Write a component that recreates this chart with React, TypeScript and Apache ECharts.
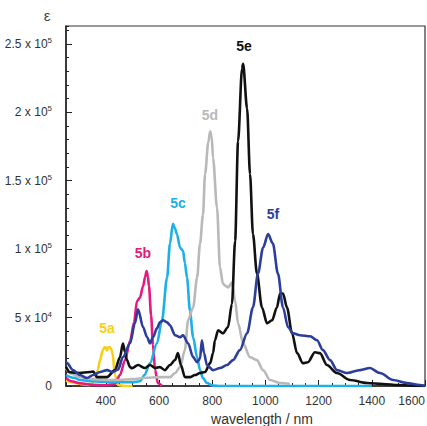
import React, { useEffect, useRef } from "react";
import * as echarts from "echarts";

const xTickLabels = [400, 600, 800, 1000, 1200, 1400, 1600];
const yTickLabels = [0, 50000, 100000, 150000, 200000, 250000];

const s5a: [number, number][] = [
  [250, 4000], [280, 2500], [303, 1500], [340, 700], [359, 4000], [370, 12000], [378, 19000],
  [388, 26000], [395, 28500], [400, 28000], [404, 26000], [408, 28000], [414, 28500], [420, 27000],
  [425, 24000], [434, 8000], [446, 700], [470, 0], [500, 0],
];
const s5b: [number, number][] = [
  [250, 5800], [270, 3500], [303, 2000], [350, 800], [400, 500], [434, 1500], [453, 8000],
  [472, 19000], [491, 33000], [506, 46500], [517, 62000], [528, 64500], [540, 73000], [548, 80000],
  [553, 84000], [558, 80000], [562, 73000], [570, 51500], [577, 30000], [585, 11600], [596, 2000], [611, 0],
];
const s5c: [number, number][] = [
  [250, 8000], [280, 6000], [303, 4400], [350, 3500], [400, 2900], [450, 2700], [500, 2800],
  [528, 3500], [545, 8000], [566, 16700], [592, 31200], [611, 48000], [630, 79200], [641, 104000],
  [652, 118500], [660, 115000], [667, 111000], [679, 101000], [690, 98800], [697, 90000],
  [705, 79200], [716, 55200], [728, 35600], [743, 21100], [754, 11600], [765, 5800], [780, 2200],
  [803, 300], [830, 0], [1000, 0], [1400, 0],
];
const s5d: [number, number][] = [
  [250, 13000], [270, 9000], [303, 6500], [350, 5000], [400, 4400], [450, 4400], [500, 5000],
  [550, 6000], [600, 6500], [641, 6500], [660, 9500], [679, 13800], [697, 26200], [709, 48000],
  [728, 57400], [743, 79200], [754, 104000], [765, 125000], [773, 154800], [785, 178000],
  [792, 186000], [798, 182000], [803, 166400], [818, 130000], [829, 86500], [840, 75000],
  [848, 73400], [860, 72000], [874, 75600], [886, 62500], [897, 45800], [916, 31200], [942, 21100],
  [968, 18900], [991, 11600], [1017, 4400], [1055, 2200], [1092, 1500],
];
const s5e: [number, number][] = [
  [250, 14000], [265, 10000], [300, 9500], [340, 10200], [352, 10500], [367, 6500], [404, 6500],
  [434, 11600], [453, 21000], [464, 31000], [472, 25000], [479, 19000], [491, 13800], [498, 13000],
  [521, 15300], [547, 13100], [566, 15300], [585, 13100], [603, 13800], [622, 11600], [641, 15300],
  [660, 19000], [671, 24000], [682, 15300], [697, 6500], [716, 6500], [735, 8000], [754, 9500],
  [773, 10200], [792, 16700], [803, 24000], [810, 33400], [822, 40700], [840, 38500], [859, 42900],
  [874, 60000], [886, 106000], [897, 178800], [912, 231800], [916, 235400], [931, 202700],
  [942, 154800], [953, 111000], [968, 82100], [987, 57400], [1006, 45800], [1025, 48000],
  [1043, 57400], [1055, 67600], [1066, 67600], [1081, 57400], [1100, 38500], [1119, 24000],
  [1141, 16700], [1160, 17400], [1186, 24700], [1205, 24000], [1231, 15300], [1269, 9450],
  [1318, 4360], [1382, 2180], [1442, 1450], [1500, 700], [1550, 300], [1600, 0],
];
const s5f: [number, number][] = [
  [250, 17400], [254, 16700], [276, 11600], [303, 8000], [329, 5800], [352, 8000], [378, 10200],
  [404, 11600], [427, 10200], [446, 12000], [464, 21100], [491, 31200], [509, 45800], [521, 56000],
  [540, 42900], [555, 35600], [566, 31200], [577, 35600], [592, 42100], [603, 46500], [615, 48000],
  [630, 46500], [641, 44300], [660, 37100], [679, 35600], [690, 37100], [709, 31200], [728, 21100],
  [743, 17400], [754, 20000], [761, 33400], [769, 24000], [780, 15300], [803, 11600], [829, 13100],
  [855, 15300], [878, 18900], [904, 26200], [931, 38500], [953, 57400], [972, 82100], [991, 101000],
  [1010, 111000], [1028, 104000], [1047, 82100], [1066, 57400], [1085, 42900], [1104, 38500],
  [1130, 37100], [1168, 36300], [1194, 33400], [1216, 26200], [1243, 18900], [1269, 11600],
  [1307, 9450], [1356, 11600], [1393, 13100], [1431, 9450], [1480, 4360], [1532, 2180],
  [1581, 730], [1600, 0],
];

const seriesNames = ["5a", "5b", "5c", "5d", "5e", "5f"];
const seriesData = [s5a, s5b, s5c, s5d, s5e, s5f];
const seriesColors = ["#f7cf16", "#e5197e", "#1bb0e8", "#b9b9b9", "#111111", "#2c3e9c"];

const FONT = "'Liberation Sans', Arial, sans-serif";

function yLabel(v: number): string {
  if (v === 0) return "0";
  const exp = Math.floor(Math.log10(v) + 1e-9);
  const mant = v / Math.pow(10, exp);
  return `${mant} x 10{sup|${exp}}`;
}

export default function App() {
  const ref = useRef<HTMLDivElement>(null);
  useEffect(() => {
    document.body.style.margin = "0";
    const chart = echarts.init(ref.current!, null, { renderer: "svg" });
    const xMin = 250, xMax = 1600, yMin = 0, yMax = 263000;
    const labelText = [
      { t: "5a", x: 107, y: 328 },
      { t: "5b", x: 143, y: 253 },
      { t: "5c", x: 178, y: 203 },
      { t: "5d", x: 210, y: 115 },
      { t: "5e", x: 244, y: 46 },
      { t: "5f", x: 273, y: 214 },
    ];
    chart.setOption({
      animation: false,
      backgroundColor: "#ffffff",
      grid: {
        left: 66, right: 2, top: 26, bottom: 40, show: true, borderColor: "#333", borderWidth: 1.2,
        backgroundColor: "transparent", containLabel: false, outerBoundsMode: "none",
      },
      xAxis: [
        {
          type: "value", min: xMin, max: xMax, interval: 50, position: "bottom",
          axisLine: { show: true, lineStyle: { color: "#222", width: 1.5 } },
          axisTick: { show: true, inside: true, length: 3, lineStyle: { color: "#222", width: 1 } },
          axisLabel: {
            customValues: xTickLabels, color: "#333", fontSize: 12, fontFamily: FONT, margin: 9,
            alignMaxLabel: "right",
            formatter: (v: number) => String(v),
          },
          splitLine: { show: false },
        },
        {
          type: "value", min: xMin, max: xMax, position: "bottom",
          axisLine: { show: false },
          axisTick: { show: true, inside: true, length: 6, customValues: xTickLabels, lineStyle: { color: "#222", width: 1 } },
          axisLabel: { show: false },
          splitLine: { show: false },
        },
      ],
      yAxis: [
        {
          type: "value", min: yMin, max: yMax, interval: 10000, position: "left",
          axisLine: { show: true, lineStyle: { color: "#222", width: 1.5 } },
          axisTick: { show: true, inside: true, length: 3, lineStyle: { color: "#222", width: 1 } },
          axisLabel: {
            customValues: yTickLabels, color: "#333", fontSize: 12, fontFamily: FONT, margin: 14,
            formatter: (v: number) => yLabel(v),
            rich: { sup: { fontSize: 8, verticalAlign: "top", padding: [0, 0, 7, 0], color: "#333", fontFamily: FONT } },
          },
          splitLine: { show: false },
        },
        {
          type: "value", min: yMin, max: yMax, position: "left",
          axisLine: { show: false },
          axisTick: { show: true, inside: true, length: 6, customValues: yTickLabels, lineStyle: { color: "#222", width: 1 } },
          axisLabel: { show: false },
          splitLine: { show: false },
        },
      ],
      series: seriesNames.map((n, i) => ({
        name: n, type: "line", data: seriesData[i], xAxisIndex: 0, yAxisIndex: 0,
        showSymbol: false, smooth: 0.3, smoothMonotone: "x",
        lineStyle: { color: seriesColors[i], width: 2.6 }, itemStyle: { color: seriesColors[i] },
      })),
      graphic: [
        { type: "text", x: 47, y: 15, style: { text: "ε", fontSize: 15, fill: "#444", fontFamily: FONT, textAlign: "center", textVerticalAlign: "middle" } },
        { type: "text", x: 262, y: 419, style: { text: "wavelength / nm", fontSize: 14, fill: "#333", fontFamily: FONT, textAlign: "center", textVerticalAlign: "middle" } },
        ...labelText.map((l, i) => ({
          type: "text", x: l.x, y: l.y,
          style: { text: l.t, fontSize: 14, fontWeight: "bold", fill: seriesColors[i], fontFamily: FONT, textAlign: "center", textVerticalAlign: "middle" },
        })),
      ],
    });
    return () => chart.dispose();
  }, []);
  return <div ref={ref} style={{ width: 427, height: 426 }} />;
}
